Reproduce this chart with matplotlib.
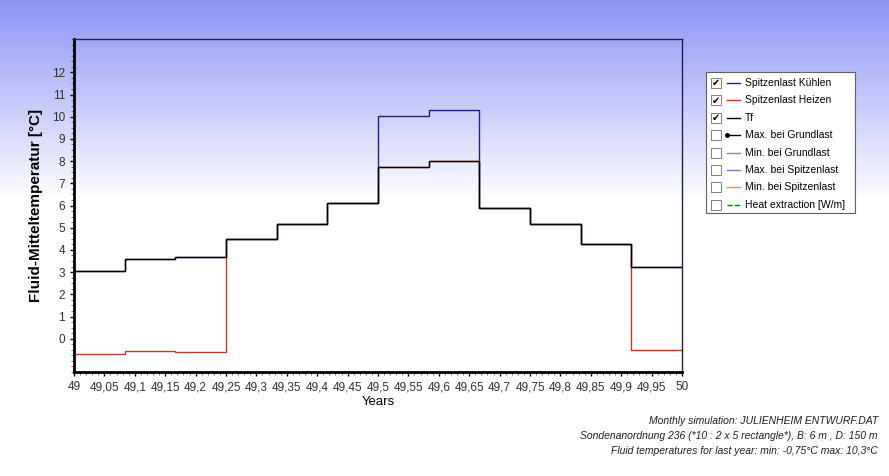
import numpy as np
import matplotlib.pyplot as plt
from matplotlib.ticker import FuncFormatter, MultipleLocator
from matplotlib.patches import Rectangle
from matplotlib.lines import Line2D

plt.rcParams["font.family"] = ["Liberation Sans", "DejaVu Sans"]

month_edges = [49 + i / 12 for i in range(13)]
tf = [3.05, 3.6, 3.68, 4.5, 5.15, 6.1, 7.75, 8.0, 5.9, 5.15, 4.25, 3.25]
kuehlen = [3.05, 3.6, 3.68, 4.5, 5.15, 6.1, 10.05, 10.3, 5.9, 5.15, 4.25, 3.25]
heizen = [-0.7, -0.55, -0.6, 4.5, 5.15, 6.1, 7.75, 8.0, 5.9, 5.15, 4.25, -0.5]

legend_labels = ["Spitzenlast Kühlen", "Spitzenlast Heizen", "Tf", "Max. bei Grundlast",
                 "Min. bei Grundlast", "Max. bei Spitzenlast", "Min. bei Spitzenlast",
                 "Heat extraction [W/m]"]
legend_checked = [True, True, True, False, False, False, False, False]
legend_colors = ["#1a237e", "#c0392b", "black", "black", "#9a7fa0", "#7080c0", "#f08070", "green"]
info_lines = ["Monthly simulation: JULIENHEIM ENTWURF.DAT",
              "Sondenanordnung 236 (*10 : 2 x 5 rectangle*), B: 6 m , D: 150 m",
              "Fluid temperatures for last year: min: -0,75°C max: 10,3°C"]

fig = plt.figure(figsize=(8.89, 4.76), dpi=100)

# gradient background
bg = fig.add_axes([0, 0, 1, 1], zorder=-1)
grad = np.ones((476, 1, 3))
top = np.array([0.55, 0.58, 0.96])
for i in range(476):
    t = min(i / 200.0, 1.0)
    grad[i, 0] = top * (1 - t) + np.array([1, 1, 1]) * t
bg.imshow(grad, aspect="auto", extent=[0, 1, 0, 1])
bg.axis("off")

ax = fig.add_axes([74 / 889, 104 / 476, 608 / 889, 333 / 476])
ax.patch.set_alpha(0)
ax.stairs(heizen, month_edges, color="#c0392b", lw=1, baseline=None)
ax.stairs(kuehlen, month_edges, color="#1a237e", lw=1, baseline=None)
ax.stairs(tf, month_edges, color="black", lw=1, baseline=None)

ax.set_xlim(49, 50)
ax.set_ylim(-1.5, 13.5)
ax.xaxis.set_major_locator(MultipleLocator(0.05))
ax.xaxis.set_minor_locator(MultipleLocator(0.01))
ax.xaxis.set_major_formatter(FuncFormatter(lambda v, p: ("%g" % round(v, 2)).replace(".", ",")))
ax.set_yticks(range(0, 13))
ax.yaxis.set_minor_locator(MultipleLocator(0.25))
ax.tick_params(labelsize=8.5, length=3, width=1, labelcolor="#303030")
ax.tick_params(which="minor", length=2, color="#606060")
for s in ["top", "right"]:
    ax.spines[s].set_color("#202050")
    ax.spines[s].set_linewidth(1)
ax.spines["left"].set_linewidth(2)
ax.spines["bottom"].set_linewidth(2)
ax.set_xlabel("Years", fontsize=9.5, labelpad=2)
ax.set_ylabel("Fluid-Mitteltemperatur [°C]", fontsize=11, fontweight="bold", labelpad=6)

# legend box
W, H = 889, 476
fig.patches.append(Rectangle((706 / W, 1 - 213 / H), 149 / W, 141 / H, transform=fig.transFigure,
                             facecolor="white", edgecolor="#606060", lw=0.8))
for i, (lab, chk, col) in enumerate(zip(legend_labels, legend_checked, legend_colors)):
    yy = 1 - (83 + i * 17.4) / H
    fig.patches.append(Rectangle((711 / W, yy - 5 / H), 10 / W, 10 / H, transform=fig.transFigure,
                                 facecolor="white", edgecolor="#808080", lw=0.7))
    if chk:
        fig.text(716 / W, yy, "✔", fontsize=7, ha="center", va="center", family=["DejaVu Sans"])
    ls = "--" if i == 7 else "-"
    fig.lines.append(Line2D([727 / W, 740 / W], [yy, yy], transform=fig.transFigure,
                            color=col, lw=1, ls=ls, marker="o" if i == 3 else None, markersize=2.5,
                            markevery=[0] if i == 3 else None))
    fig.text(745 / W, yy, lab, fontsize=7.5, va="center")

for i, line in enumerate(info_lines):
    fig.text(878 / W, 1 - (421 + i * 15) / H, line, fontsize=7.5, style="italic",
             ha="right", va="center", color="#202020")

fig.savefig("out.png", dpi=100)
